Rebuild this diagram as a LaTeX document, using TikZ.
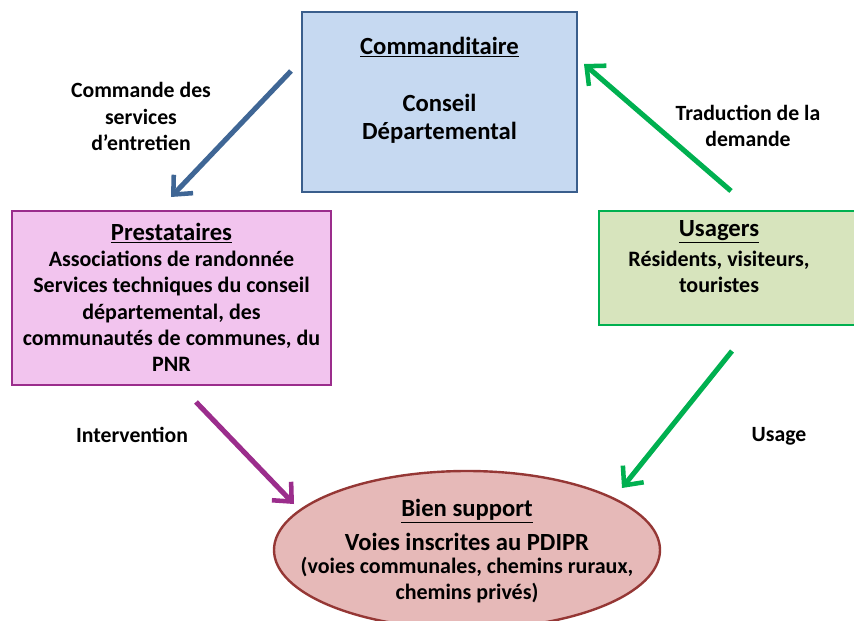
\documentclass[tikz,border=0pt]{standalone}
\usepackage{fontspec}
\setmainfont{Carlito}
\usetikzlibrary{arrows.meta,shapes.geometric}
\definecolor{cmdfill}{HTML}{C6D9F1}
\definecolor{cmdline}{HTML}{3A5E8C}
\definecolor{prefill}{HTML}{F2C4EE}
\definecolor{preline}{HTML}{9B2D8C}
\definecolor{usafill}{HTML}{D7E4BD}
\definecolor{usaline}{HTML}{00B050}
\definecolor{bienfill}{HTML}{E6B9B8}
\definecolor{bienline}{HTML}{953735}
\definecolor{bluearrow}{HTML}{3F6695}
\begin{document}
\begin{tikzpicture}[x=0.75pt,y=-0.75pt,
  titletext/.style={font=\fontsize{18.5}{21}\selectfont\bfseries, align=center, inner sep=0pt},
  bigtext/.style={font=\fontsize{18.5}{21}\selectfont\bfseries, align=center, inner sep=0pt},
  boxtext/.style={font=\fontsize{16.5}{19.7}\selectfont\bfseries, align=center, inner sep=0pt},
  lbltext/.style={font=\fontsize{16.3}{19.7}\selectfont\bfseries, align=center, inner sep=0pt},
  panel/.style={line width=2.2pt, inner sep=0pt},
  flow/.style={line width=3.8pt, -{Straight Barb[length=11pt,width=20pt,line width=3.4pt]}}
]
\useasboundingbox (0,0) rectangle (854,621);
% boxes
\node[panel, draw=cmdline, fill=cmdfill, minimum width=275*0.75pt, minimum height=180*0.75pt] (cmd) at (439.5,102) {};
\node[panel, draw=preline, fill=prefill, minimum width=319*0.75pt, minimum height=174*0.75pt] (pre) at (171.5,298) {};
\node[panel, draw=usaline, fill=usafill, minimum width=270*0.75pt, minimum height=114*0.75pt] (usa) at (734,268) {};
\node[ellipse, line width=1.8pt, draw=bienline, fill=bienfill, minimum width=386*0.75pt, minimum height=158*0.75pt, inner sep=0pt] (bien) at (467,550) {};
% texts
\node[titletext] (cmdtitle) at (439.5,47) {\underline{Commanditaire}};
\node[bigtext] (cmdbody) at (439.5,119) {Conseil\\Départemental};
\node[titletext] (pretitle) at (171.5,233) {\underline{Prestataires}};
\node[boxtext] (prebody) at (171.5,311.5) {Associations de randonnée\\Services techniques du conseil\\départemental, des\\communautés de communes, du\\PNR};
\node[titletext] (usatitle) at (719,232) {\underline{Usagers}};
\node[boxtext] (usabody) at (719,272) {Résidents, visiteurs,\\touristes};
\node[titletext] (bientitle) at (467,511) {\underline{Bien support}};
\node[bigtext] (bienmain) at (467,542) {Voies inscrites au PDIPR};
\node[boxtext] (bienbody) at (467,580) {(voies communales, chemins ruraux,\\chemins privés)};
% connector anchors
\coordinate (a1s) at (291,71);  \coordinate (a1e) at (171,197);
\coordinate (a2s) at (731,191); \coordinate (a2e) at (584,64);
\coordinate (a3s) at (196,402); \coordinate (a3e) at (294,504);
\coordinate (a4s) at (732,351); \coordinate (a4e) at (622,488);
\draw[flow, bluearrow] (a1s) -- (a1e);
\draw[flow, usaline] (a2s) -- (a2e);
\draw[flow, preline] (a3s) -- (a3e);
\draw[flow, usaline] (a4s) -- (a4e);
% labels
\node[lbltext] (l1) at (141,116.5) {Commande des\\services\\d’entretien};
\node[lbltext] (l2) at (748,126) {Traduction de la\\demande};
\node[lbltext] (l3) at (132,435) {Intervention};
\node[lbltext] (l4) at (779,436) {Usage};
\end{tikzpicture}
\end{document}
